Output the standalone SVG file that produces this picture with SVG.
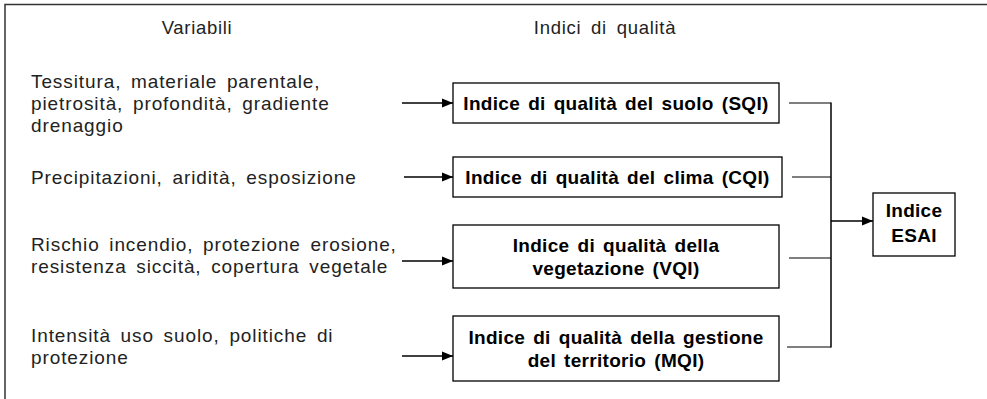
<svg xmlns="http://www.w3.org/2000/svg" width="987" height="399" viewBox="0 0 987 399">
<defs>
<marker id="ah" viewBox="0 0 10 10" refX="10" refY="5" markerWidth="11" markerHeight="11" markerUnits="userSpaceOnUse" orient="auto">
<path d="M0,1 L10,5 L0,9 Z" fill="#000"/>
</marker>
<style>
.frame{stroke:#333;stroke-width:1.5;fill:none}
.box{fill:#fff;stroke:#000;stroke-width:1.3}
.lbl{font-family:"Liberation Sans",Arial,sans-serif;font-size:19px;fill:#222;letter-spacing:0.9px;word-spacing:3.5px}
.hdr{font-family:"Liberation Sans",Arial,sans-serif;font-size:18.5px;fill:#222;text-anchor:middle;letter-spacing:0.7px;word-spacing:4px}
.bt{font-family:"Liberation Sans",Arial,sans-serif;font-size:19px;font-weight:bold;fill:#000;text-anchor:middle;letter-spacing:0.3px;word-spacing:2.5px}
.ln{stroke:#555;stroke-width:1.5;fill:none}
.bus{stroke:#000;stroke-width:1.5;fill:none}
.arr{stroke:#000;stroke-width:1.3;fill:none;marker-end:url(#ah)}
</style>
</defs>
<rect width="987" height="399" fill="#fff"/>
<path class="frame" d="M5,399 V4.5 H987"/>
<g id="headers">
<text class="hdr" x="197" y="34">Variabili</text>
<text class="hdr" x="605" y="34">Indici di qualità</text>
</g>
<g id="var-suolo">
<text class="lbl" x="31" y="88">Tessitura, materiale parentale,</text>
<text class="lbl" x="31" y="110">pietrosità, profondità, gradiente</text>
<text class="lbl" x="31" y="132">drenaggio</text>
</g>
<g id="var-clima">
<text class="lbl" x="31" y="184">Precipitazioni, aridità, esposizione</text>
</g>
<g id="var-veg">
<text class="lbl" x="31" y="251">Rischio incendio, protezione erosione,</text>
<text class="lbl" x="31" y="273">resistenza siccità, copertura vegetale</text>
</g>
<g id="var-gest">
<text class="lbl" x="31" y="342">Intensità uso suolo, politiche di</text>
<text class="lbl" x="31" y="364">protezione</text>
</g>
<g id="sqi">
<rect class="box" x="453" y="83" width="326" height="40"/>
<text class="bt" x="616" y="110">Indice di qualità del suolo (SQI)</text>
</g>
<g id="cqi">
<rect class="box" x="453" y="157" width="329" height="40"/>
<text class="bt" x="617.5" y="184">Indice di qualità del clima (CQI)</text>
</g>
<g id="vqi">
<rect class="box" x="453" y="225" width="326" height="63"/>
<text class="bt" x="616" y="252">Indice di qualità della</text>
<text class="bt" x="616" y="275">vegetazione (VQI)</text>
</g>
<g id="mqi">
<rect class="box" x="453" y="316" width="326" height="65"/>
<text class="bt" x="616" y="344">Indice di qualità della gestione</text>
<text class="bt" x="616" y="367">del territorio (MQI)</text>
</g>
<g id="esai">
<rect class="box" x="873" y="193" width="82" height="63"/>
<text class="bt" x="914" y="217">Indice</text>
<text class="bt" x="914" y="242">ESAI</text>
</g>
<g id="connectors">
<line class="arr" x1="402" y1="103" x2="453" y2="103"/>
<line class="arr" x1="404" y1="177" x2="453" y2="177"/>
<line class="arr" x1="402" y1="261" x2="453" y2="261"/>
<line class="arr" x1="402" y1="356" x2="453" y2="356"/>
<line class="ln" x1="789" y1="103" x2="831" y2="103"/>
<line class="ln" x1="792" y1="177" x2="831" y2="177"/>
<line class="ln" x1="789" y1="258" x2="831" y2="258"/>
<line class="ln" x1="787" y1="347" x2="831" y2="347"/>
<line class="bus" x1="831" y1="102.5" x2="831" y2="347.5"/>
<line class="arr" x1="831" y1="221" x2="873" y2="221"/>
</g>
</svg>
